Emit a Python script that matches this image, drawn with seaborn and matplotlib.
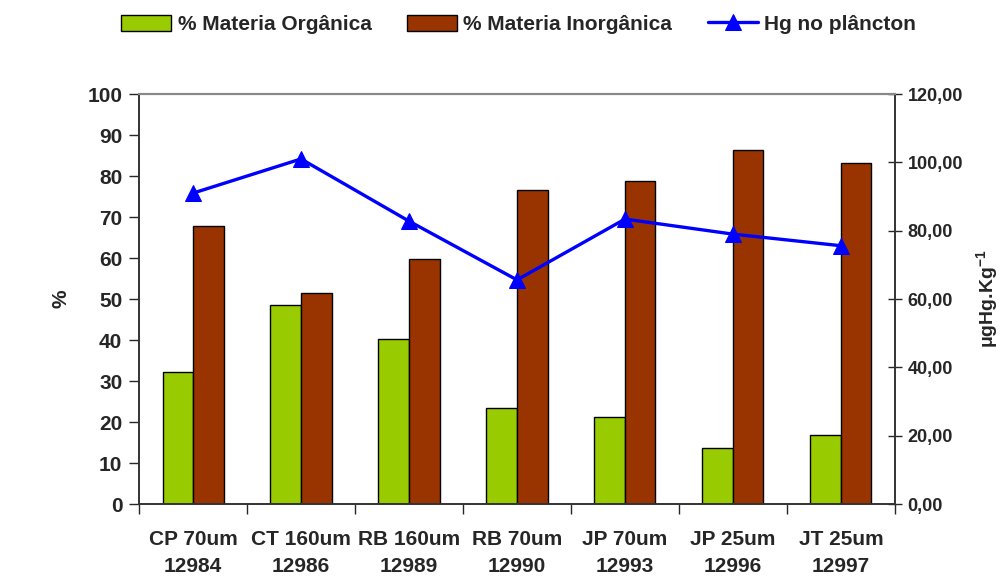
import numpy as np
import pandas as pd
import matplotlib
matplotlib.use("Agg")
import matplotlib.pyplot as plt
import seaborn as sns

# data
amostras = ["CP 70um\n12984", "CT 160um\n12986", "RB 160um\n12989", "RB 70um\n12990",
            "JP 70um\n12993", "JP 25um\n12996", "JT 25um\n12997"]
organica = [32.1, 48.5, 40.3, 23.3, 21.2, 13.6, 16.8]
inorganica = [67.9, 51.5, 59.7, 76.7, 78.8, 86.4, 83.2]
hg_plancton = [91.0, 101.0, 82.8, 65.6, 83.4, 79.0, 75.6]

sns.set_style("white")
plt.rcParams['font.family'] = ['Liberation Sans', 'DejaVu Sans']
plt.rcParams['font.weight'] = 'bold'

df = pd.DataFrame({
    "Amostra": amostras * 2,
    "Valor": organica + inorganica,
    "Serie": ["% Materia Orgânica"] * 7 + ["% Materia Inorgânica"] * 7,
})

fig = plt.figure(figsize=(10.03, 5.77), dpi=100)
ax = fig.add_axes([0.1386, 0.1265, 0.7537, 0.7105])

sns.barplot(data=df, x="Amostra", y="Valor", hue="Serie", ax=ax,
            palette=["#99CC00", "#993300"], width=0.565,
            edgecolor="black", linewidth=1, saturation=1, legend=True)
ax.set_xlim(-0.5, 6.5)
ax.set_ylim(0, 100)
ax.set_yticks(range(0, 101, 10))
ax.set_xlabel("")
ax.set_ylabel("%", fontsize=15, fontweight="bold", labelpad=12)
ax.tick_params(axis="y", which="major", direction="out", length=7, width=1,
               labelsize=15, left=True, pad=5)
ax.set_xticks(np.arange(-0.5, 7, 1), minor=True)
ax.tick_params(axis="x", which="major", length=0, labelsize=15, pad=19)
ax.tick_params(axis="x", which="minor", direction="out", length=7, width=1, bottom=True)
for lbl in ax.get_xticklabels():
    lbl.set_linespacing(1.5)

ax2 = ax.twinx()
sns.lineplot(x=np.arange(7), y=hg_plancton, ax=ax2, color="#0000FF",
             linewidth=2.4, marker="^", markersize=11, markeredgecolor="#0000FF",
             label="Hg no plâncton", legend=False)
ax2.set_ylim(0, 120)
ax2.set_yticks(range(0, 121, 20))
ax2.set_yticklabels([f"{v},00" for v in range(0, 121, 20)])
ax2.tick_params(axis="y", direction="inout", length=10, width=1, labelsize=13,
                right=True, pad=4)
ax2.set_ylabel(r"$\mathregular{\mu}$gHg.Kg$^{\mathregular{-1}}$", fontsize=14,
               fontweight="bold", rotation=90, labelpad=8)

for a in (ax, ax2):
    for side in ("left", "right", "bottom"):
        a.spines[side].set_color("#333333")
        a.spines[side].set_linewidth(1.2)
    a.spines["top"].set_color("#888888")
    a.spines["top"].set_linewidth(1.5)

h1, l1 = ax.get_legend_handles_labels()
h2, l2 = ax2.get_legend_handles_labels()
ax.get_legend().remove()
fig.legend(h1 + h2, l1 + l2, loc="center", bbox_to_anchor=(0.517, 0.958), ncol=3,
           frameon=False, fontsize=15, handlelength=2.4, handleheight=0.8,
           columnspacing=1.7, handletextpad=0.3)

fig.savefig("out.png", dpi=100)
